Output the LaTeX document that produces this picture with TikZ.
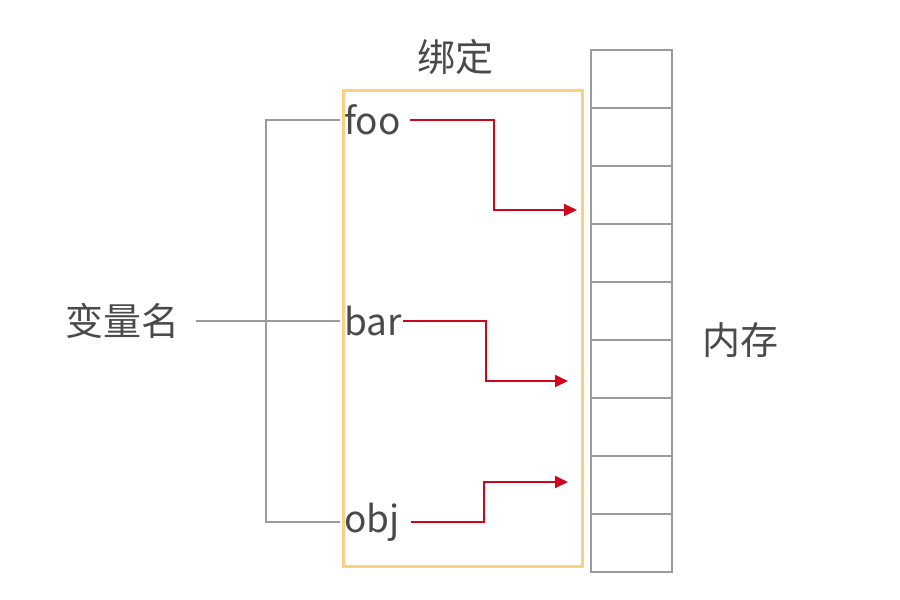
\documentclass[tikz,border=0pt]{standalone}
\usepackage{fontspec}
\setmainfont{Noto Sans CJK SC}
\usepackage{tikz}
\usetikzlibrary{positioning,arrows.meta}
\usepackage{xcolor}
\definecolor{inkgray}{RGB}{74,74,74}
\definecolor{linegray}{RGB}{155,155,155}
\definecolor{bindorange}{RGB}{253,208,125}
\definecolor{ptrred}{RGB}{205,6,30}

\begin{document}
\begin{tikzpicture}[
    x=1pt, y=-1pt,
    every node/.style={text=inkgray, inner sep=0pt},
    word/.style={font=\fontsize{37}{40}\selectfont, anchor=west},
    label/.style={font=\fontsize{38}{42}\selectfont},
    bindbox/.style={draw=bindorange, line width=3pt, minimum width=239pt, minimum height=476pt},
    cell/.style={draw=linegray, line width=1.6pt, minimum width=81pt, minimum height=58pt},
    bracket/.style={draw=linegray, line width=1.6pt},
    ptr/.style={draw=ptrred, line width=1.8pt, -{Triangle[length=13pt, width=12pt]}}
]
\useasboundingbox (0,0) rectangle (900,600);

\node[bindbox] (bind) at (462.5,328) {};
\node[label, above=14pt of bind, xshift=-7pt] (title) {绑定};

\foreach \i in {0,...,8}
    \node[cell] (cell\i) at (631.5,79+58*\i) {};

\node[label] (mem) at (740,340) {内存};
\node[label] (vname) at (122,321) {变量名};

\node[word] (foo) at (344,120) {foo};
\node[word] (bar) at (344,321) {bar};
\node[word] (obj) at (344,522) {obj};

\coordinate (brk) at (266,0);
\coordinate (k1) at (494,210);
\coordinate (k2) at (486,381);
\coordinate (k3) at (484,482);
\coordinate (m1) at (577,210);
\coordinate (m2) at (568,381);
\coordinate (m3) at (568,482);

\draw[bracket] ([xshift=-4pt]foo.west) -- (foo.west -| brk) -- (obj.west -| brk) -- ([xshift=-4pt]obj.west);
\draw[bracket] ([xshift=17pt]vname.east) -- ([xshift=-4pt]bar.west);

\draw[ptr] ([xshift=9pt]foo.east) -| (k1) -- (m1);
\draw[ptr] ([xshift=1pt]bar.east) -| (k2) -- (m2);
\draw[ptr] ([xshift=11pt]obj.east) -| (k3) -- (m3);

\end{tikzpicture}
\end{document}
